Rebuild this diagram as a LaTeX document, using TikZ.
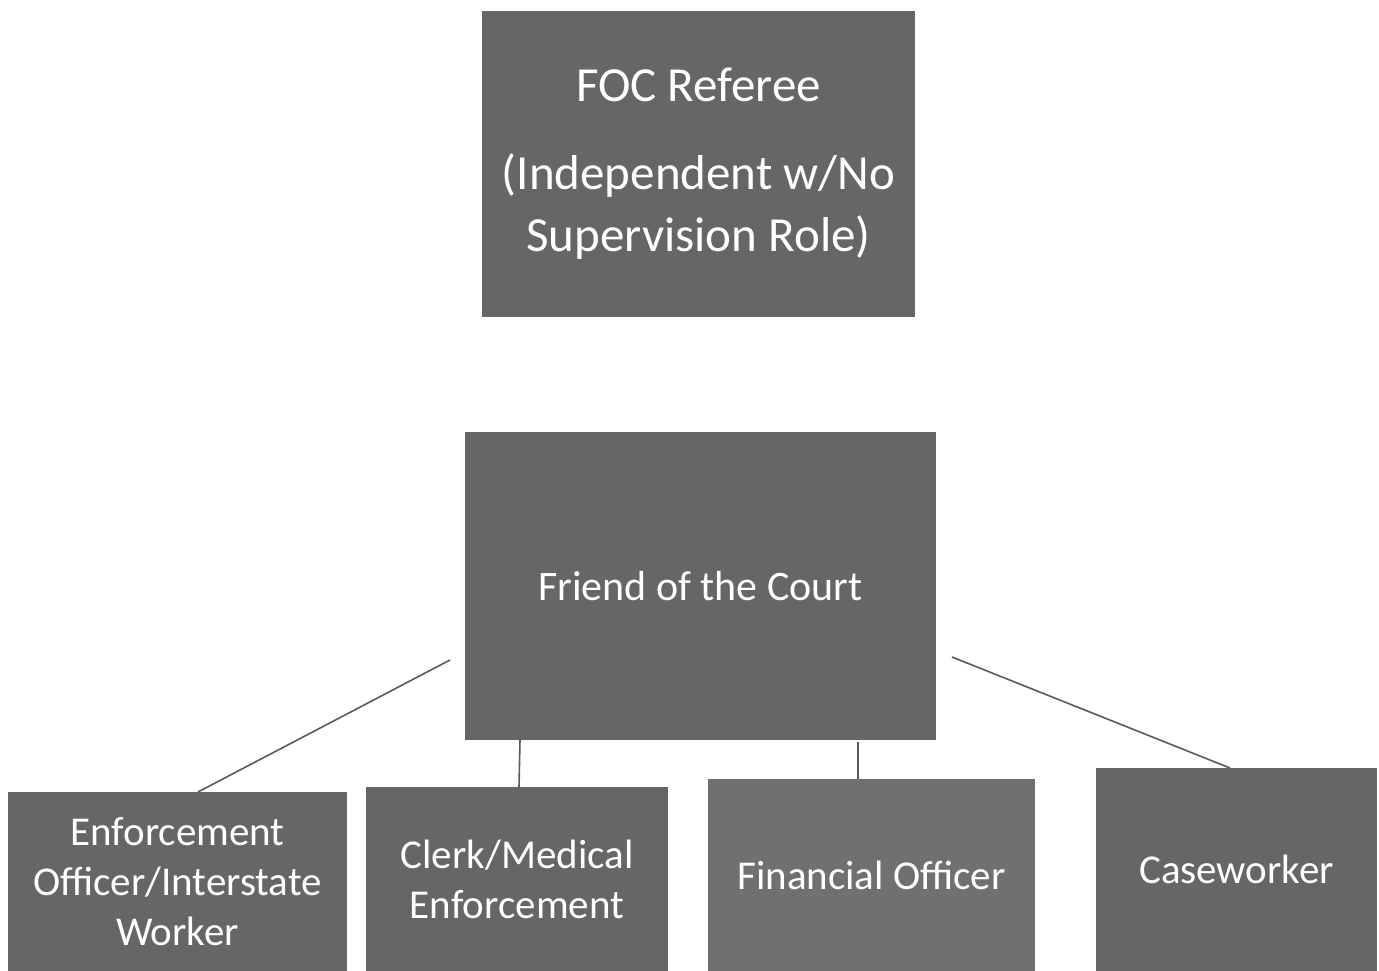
\documentclass[tikz,border=0pt]{standalone}
\usepackage{fontspec}
\setmainfont{Carlito}
\definecolor{boxgray}{HTML}{666666}
\definecolor{boxgraylight}{HTML}{707070}
\definecolor{linegray}{HTML}{5A5A5A}
\begin{document}
\begin{tikzpicture}[x=1pt,y=-1pt,
  orgbox/.style={fill=boxgray,draw=none,text=white,align=center,inner sep=0pt},
  conn/.style={draw=linegray,line width=1.6pt}]
\useasboundingbox (0,0) rectangle (1379,971);
\fill[white] (0,0) rectangle (1379,971);
% top box
\node[orgbox,minimum width=433pt,minimum height=306pt,font=\fontsize{49}{62}\selectfont] (ref) at (698.5,164)
  {FOC Referee\\[26pt](Independent w/No\\Supervision Role)};
% middle box
\node[orgbox,minimum width=471pt,minimum height=308pt,font=\fontsize{42}{50}\selectfont] (foc) at (700.5,586) {Friend of the Court};
% bottom boxes
\node[orgbox,minimum width=339pt,minimum height=179pt,font=\fontsize{41}{50}\selectfont] (enf) at (177.5,881.5)
  {Enforcement\\Officer/Interstate\\Worker};
\node[orgbox,minimum width=302pt,minimum height=184pt,font=\fontsize{41}{50}\selectfont] (clk) at (517,879)
  {Clerk/Medical\\Enforcement};
\node[orgbox,fill=boxgraylight,minimum width=327pt,minimum height=192pt,font=\fontsize{41}{50}\selectfont] (fin) at (871.5,875)
  {Financial Officer};
\node[orgbox,minimum width=281pt,minimum height=203pt,font=\fontsize{41}{50}\selectfont] (cas) at (1236.5,869.5)
  {Caseworker};
% connector ends
\coordinate (l1) at (450,660);
\coordinate (e1) at (198,792);
\coordinate (l2) at (520,740);
\coordinate (e2) at (519,787);
\coordinate (l3) at (858,742);
\coordinate (e3) at (858,779);
\coordinate (l4) at (952,657);
\coordinate (e4) at (1230,768);
\draw[conn] (l1) -- (e1);
\draw[conn] (l2) -- (e2);
\draw[conn] (l3) -- (e3);
\draw[conn] (l4) -- (e4);
\end{tikzpicture}
\end{document}
